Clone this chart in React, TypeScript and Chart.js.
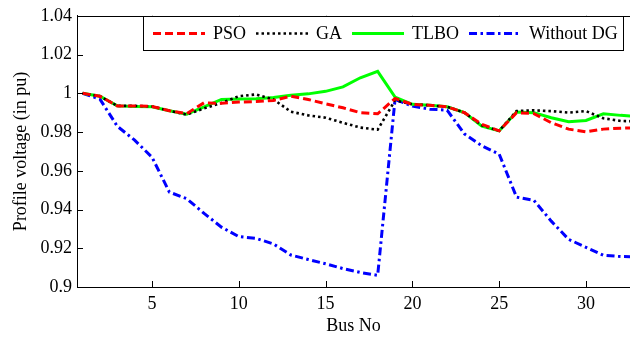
import React, { useEffect, useRef } from 'react';
import { Chart, registerables } from 'chart.js';

Chart.register(...registerables);

// ---- data ----
const busNo = [1, 2, 3, 4, 5, 6, 7, 8, 9, 10, 11, 12, 13, 14, 15, 16, 17, 18, 19, 20, 21, 22, 23, 24, 25, 26, 27, 28, 29, 30, 31, 32, 33];

const psoVoltage = [1.000, 0.9985, 0.9935, 0.9935, 0.9932, 0.991, 0.9895, 0.9951, 0.9948, 0.9955, 0.9957, 0.9963, 0.9985, 0.9968, 0.9946, 0.9925, 0.990, 0.9894, 0.9973, 0.9943, 0.9938, 0.993, 0.990, 0.984, 0.9806, 0.990, 0.9895, 0.9848, 0.9815, 0.9801, 0.9815, 0.982, 0.9822];

const gaVoltage = [1.000, 0.9985, 0.9935, 0.9935, 0.9932, 0.991, 0.989, 0.9922, 0.995, 0.9985, 0.9994, 0.9968, 0.9905, 0.9886, 0.9874, 0.9848, 0.9823, 0.9812, 0.9963, 0.9943, 0.9938, 0.993, 0.990, 0.9835, 0.9806, 0.9908, 0.9912, 0.9908, 0.990, 0.9908, 0.9871, 0.9857, 0.9855];

const tlboVoltage = [1.000, 0.9985, 0.9935, 0.9932, 0.993, 0.991, 0.9892, 0.993, 0.9968, 0.997, 0.9972, 0.9978, 0.999, 0.9997, 1.001, 1.0033, 1.008, 1.0113, 0.998, 0.9943, 0.9938, 0.993, 0.990, 0.983, 0.9806, 0.9903, 0.990, 0.9874, 0.9853, 0.986, 0.9894, 0.9886, 0.988];

const withoutDgVoltage = [1.000, 0.997, 0.983, 0.9758, 0.967, 0.949, 0.9456, 0.938, 0.9309, 0.926, 0.9251, 0.9222, 0.9165, 0.9142, 0.912, 0.9095, 0.9075, 0.906, 0.9968, 0.9934, 0.9918, 0.9913, 0.979, 0.9729, 0.9686, 0.9464, 0.9447, 0.934, 0.9246, 0.9205, 0.9164, 0.9157, 0.9156];

const seriesLabels = ['PSO', 'GA', 'TLBO', 'Without DG'];
const xTickValues = [5, 10, 15, 20, 25, 30];
const yTickValues = [0.9, 0.92, 0.94, 0.96, 0.98, 1.0, 1.02, 1.04];

const FONT_FAMILY = '"Liberation Serif", "Times New Roman", serif';

const toPoints = (vals: number[]) => vals.map((v, i) => ({ x: busNo[i], y: v }));

const frameAndLegendPlugin = {
  id: 'frameAndLegend',
  afterDatasetsDraw(chart: any) {
    const ctx = chart.ctx;
    const { left, right, top, bottom } = chart.chartArea;
    const xs = chart.scales.x;
    const ys = chart.scales.y;
    ctx.save();
    ctx.strokeStyle = '#000';
    ctx.lineWidth = 1;
    ctx.setLineDash([]);
    // top border
    ctx.beginPath();
    ctx.moveTo(left, Math.round(top) + 0.5);
    ctx.lineTo(right, Math.round(top) + 0.5);
    ctx.stroke();
    const tl = 6;
    ctx.beginPath();
    xs.ticks.forEach((t: any) => {
      const px = Math.round(xs.getPixelForValue(t.value)) + 0.5;
      ctx.moveTo(px, bottom);
      ctx.lineTo(px, bottom - tl);
      ctx.moveTo(px, top);
      ctx.lineTo(px, top + tl);
    });
    ys.ticks.forEach((t: any) => {
      const py = Math.round(ys.getPixelForValue(t.value)) + 0.5;
      ctx.moveTo(left, py);
      ctx.lineTo(left + tl, py);
    });
    ctx.stroke();
    ctx.restore();
  },
  afterDraw(chart: any) {
    const ctx = chart.ctx;
    ctx.save();
    ctx.font = `18px ${FONT_FAMILY}`;
    const startX = 153;
    const lineLen = 52;
    const textGap = 8;
    const itemGap = 10;
    const cy = 33.5;
    const ds = chart.data.datasets;
    let x = startX;
    const items = ds.map((d: any) => {
      const w = ctx.measureText(d.label).width;
      const item = { d, x, w };
      x += lineLen + textGap + w + itemGap;
      return item;
    });
    const boxL = 143.5;
    const boxR = Math.round(x - itemGap + 5) + 0.5;
    const boxT = 16.5;
    const boxB = 50.5;
    ctx.fillStyle = '#fff';
    ctx.fillRect(boxL, boxT, boxR - boxL, boxB - boxT);
    ctx.strokeStyle = '#000';
    ctx.lineWidth = 1;
    ctx.strokeRect(boxL, boxT, boxR - boxL, boxB - boxT);
    items.forEach((it: any) => {
      ctx.save();
      ctx.strokeStyle = it.d.borderColor;
      ctx.lineWidth = it.d.borderWidth;
      ctx.setLineDash(it.d.borderDash || []);
      ctx.lineCap = 'butt';
      ctx.beginPath();
      ctx.moveTo(it.x, cy);
      ctx.lineTo(it.x + lineLen, cy);
      ctx.stroke();
      ctx.restore();
      ctx.fillStyle = '#000';
      ctx.textBaseline = 'middle';
      ctx.textAlign = 'left';
      ctx.fillText(it.d.label, it.x + lineLen + textGap, cy + 0.5);
    });
    ctx.restore();
  },
};

export default function App() {
  const canvasRef = useRef<HTMLCanvasElement | null>(null);

  useEffect(() => {
    if (!canvasRef.current) return;
    const font = { family: FONT_FAMILY, size: 18 };
    const chart = new Chart(canvasRef.current, {
      type: 'line',
      data: {
        datasets: [
          { label: seriesLabels[0], data: toPoints(psoVoltage), borderColor: '#ff0000', borderWidth: 3, borderDash: [8, 4], fill: false },
          { label: seriesLabels[1], data: toPoints(gaVoltage), borderColor: '#000000', borderWidth: 2.6, borderDash: [2.5, 3], fill: false },
          { label: seriesLabels[2], data: toPoints(tlboVoltage), borderColor: '#00ff00', borderWidth: 3, fill: false },
          { label: seriesLabels[3], data: toPoints(withoutDgVoltage), borderColor: '#0000ff', borderWidth: 3, borderDash: [8, 3.5, 2.5, 3.5], fill: false },
        ],
      },
      options: {
        responsive: false,
        animation: false,
        layout: { padding: { top: 14, left: 0, right: 0, bottom: 0 } },
        elements: { point: { radius: 0, hoverRadius: 0 }, line: { tension: 0 } },
        plugins: { legend: { display: false }, tooltip: { enabled: false } },
        scales: {
          x: {
            type: 'linear',
            min: 0.68,
            max: 32.535,
            grid: { display: false, drawTicks: false },
            border: { display: true, color: '#000', width: 1 },
            afterBuildTicks: (s: any) => {
              s.ticks = xTickValues.map((v) => ({ value: v }));
            },
            afterFit: (s: any) => {
              s.height = 53;
            },
            ticks: {
              color: '#000',
              font,
              padding: 6,
              autoSkip: false,
              maxRotation: 0,
              callback: (v: any) => String(v),
            },
            title: { display: true, text: 'Bus No', color: '#000', font, padding: { top: 0, bottom: 3 } },
          },
          y: {
            type: 'linear',
            min: 0.9,
            max: 1.04,
            grid: { display: false, drawTicks: false },
            border: { display: true, color: '#000', width: 1 },
            afterBuildTicks: (s: any) => {
              s.ticks = yTickValues.map((v) => ({ value: v }));
            },
            afterFit: (s: any) => {
              s.width = 77;
            },
            ticks: {
              color: '#000',
              font,
              padding: 5,
              callback: (v: any) => String(parseFloat(Number(v).toFixed(2))),
            },
            title: { display: true, text: 'Profile voltage (in pu)', color: '#000', font, padding: { top: 10, bottom: 0 } },
          },
        },
      },
      plugins: [frameAndLegendPlugin],
    } as any);
    return () => chart.destroy();
  }, []);

  return (
    <div style={{ position: 'absolute', left: 0, top: 0, width: 630, height: 340, background: '#fff' }}>
      <canvas ref={canvasRef} width={630} height={340} style={{ display: 'block' }} />
    </div>
  );
}
